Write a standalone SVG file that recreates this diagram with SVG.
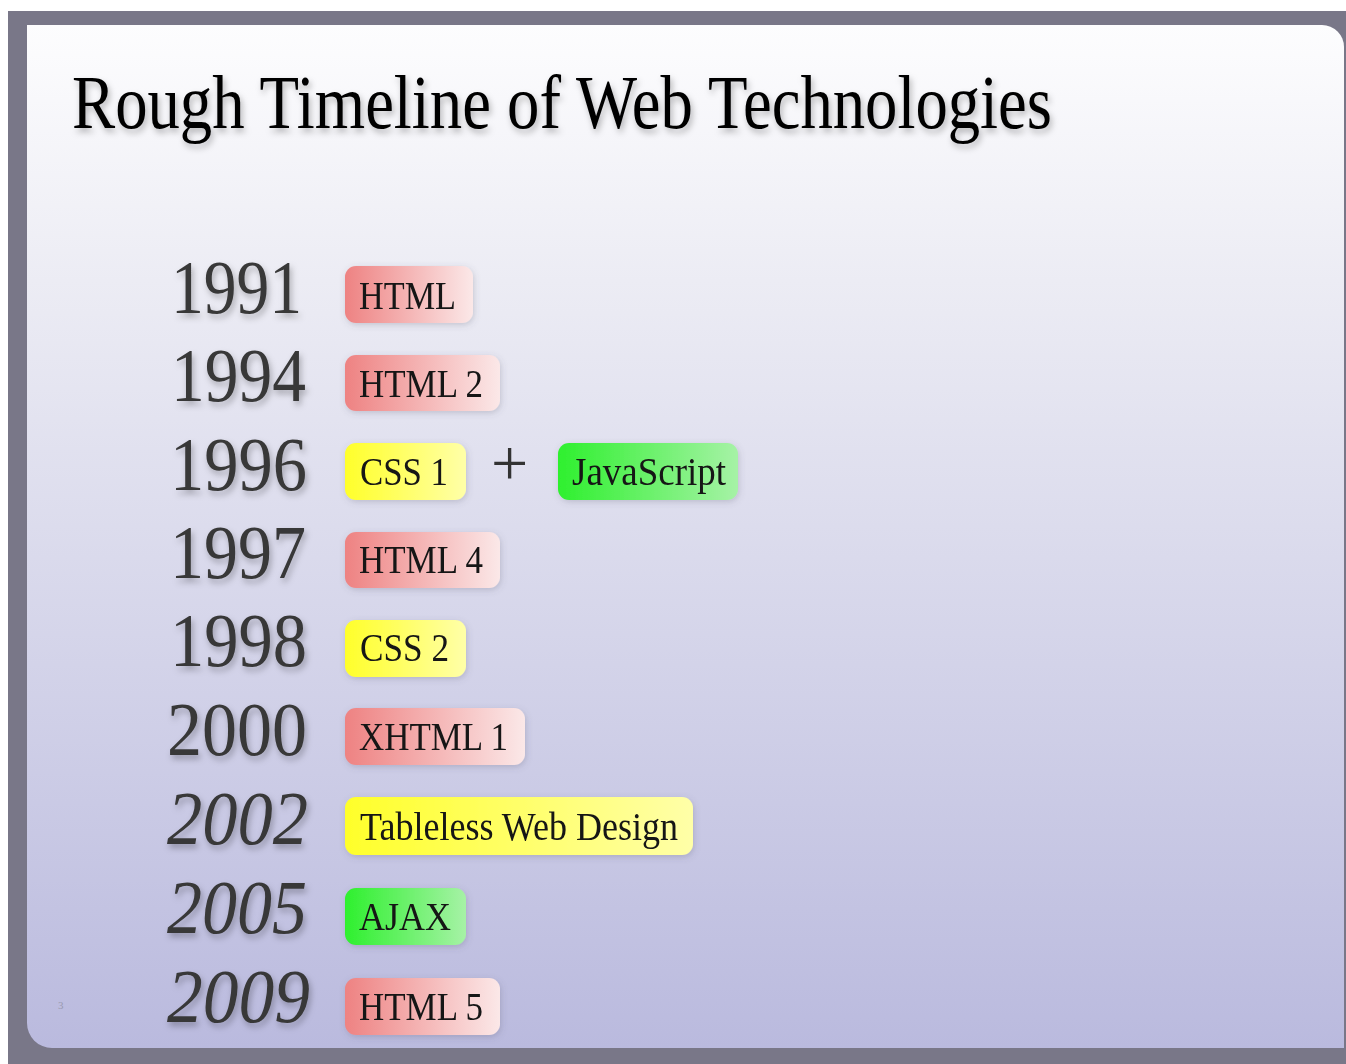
<svg xmlns="http://www.w3.org/2000/svg" width="1346" height="1064" viewBox="0 0 1346 1064">
<defs>
<linearGradient id="slide" x1="0" y1="0" x2="0" y2="1">
<stop offset="0" stop-color="#fdfdfe"/>
<stop offset="0.25" stop-color="#ececf4"/>
<stop offset="1" stop-color="#babade"/>
</linearGradient>
<linearGradient id="red" x1="0" y1="0" x2="1" y2="0">
<stop offset="0" stop-color="#ee8282"/>
<stop offset="1" stop-color="#fbe8e8"/>
</linearGradient>
<linearGradient id="yellow" x1="0" y1="0" x2="1" y2="0">
<stop offset="0" stop-color="#ffff2a"/>
<stop offset="1" stop-color="#ffffa8"/>
</linearGradient>
<linearGradient id="green" x1="0" y1="0" x2="1" y2="0">
<stop offset="0" stop-color="#2ef02e"/>
<stop offset="1" stop-color="#a6f2a6"/>
</linearGradient>
<filter id="tshadow" x="-5%" y="-20%" width="110%" height="150%">
<feDropShadow dx="2" dy="4" stdDeviation="3" flood-color="#000" flood-opacity="0.28"/>
</filter>
<filter id="bshadow" x="-10%" y="-20%" width="125%" height="150%">
<feDropShadow dx="1" dy="2" stdDeviation="3" flood-color="#556" flood-opacity="0.25"/>
</filter>
</defs>
<style>
.title{font-family:"Liberation Serif","Times New Roman",serif;font-size:76px;fill:#000}
.year{font-family:"Liberation Serif","Times New Roman",serif;font-size:76px;fill:#383838}
.it{font-style:italic}
.lbl{font-family:"Liberation Serif","Times New Roman",serif;font-size:40px;fill:#141414}
.red{fill:url(#red)}
.yellow{fill:url(#yellow)}
.green{fill:url(#green)}
</style>
<rect x="0" y="0" width="1346" height="1064" fill="#ffffff"/>
<rect x="8" y="11" width="1338" height="1053" fill="#797788"/>
<path d="M27,25 H1322 A22,22 0 0 1 1344,47 V1048 H52 A25,25 0 0 1 27,1023 Z" fill="url(#slide)"/>
<text class="title" x="72" y="128" textLength="980" lengthAdjust="spacingAndGlyphs" filter="url(#tshadow)">Rough Timeline of Web Technologies</text>
<text x="58" y="1009" font-family="Liberation Serif, serif" font-size="11" fill="#9a9ab0">3</text>
<g id="connectors"></g>
<g filter="url(#tshadow)">
<text class="year" x="171" y="313" textLength="131" lengthAdjust="spacingAndGlyphs">1991</text>
<text class="year" x="171" y="401" textLength="135" lengthAdjust="spacingAndGlyphs">1994</text>
<text class="year" x="170" y="490" textLength="137" lengthAdjust="spacingAndGlyphs">1996</text>
<text class="year" x="170" y="578" textLength="136" lengthAdjust="spacingAndGlyphs">1997</text>
<text class="year" x="170" y="666" textLength="137" lengthAdjust="spacingAndGlyphs">1998</text>
<text class="year" x="167" y="755" textLength="140" lengthAdjust="spacingAndGlyphs">2000</text>
<text class="year it" x="167" y="844" textLength="141" lengthAdjust="spacingAndGlyphs">2002</text>
<text class="year it" x="167" y="933" textLength="140" lengthAdjust="spacingAndGlyphs">2005</text>
<text class="year it" x="167" y="1022" textLength="143" lengthAdjust="spacingAndGlyphs">2009</text>
</g>
<g id="html1991" filter="url(#bshadow)"><rect class="red" x="345" y="266" width="128" height="57" rx="11"/><text class="lbl" x="359" y="309" textLength="97" lengthAdjust="spacingAndGlyphs">HTML</text></g>
<g id="html2" filter="url(#bshadow)"><rect class="red" x="345" y="355" width="155" height="56" rx="11"/><text class="lbl" x="359" y="397" textLength="124" lengthAdjust="spacingAndGlyphs">HTML 2</text></g>
<g id="css1" filter="url(#bshadow)"><rect class="yellow" x="345" y="443" width="121" height="57" rx="11"/><text class="lbl" x="360" y="485" textLength="88" lengthAdjust="spacingAndGlyphs">CSS 1</text></g>
<text x="491" y="485" font-family="Liberation Serif, 'Times New Roman', serif" font-size="66" fill="#333">+</text>
<g id="javascript" filter="url(#bshadow)"><rect class="green" x="558" y="443" width="180" height="57" rx="11"/><text class="lbl" x="572" y="485" textLength="154" lengthAdjust="spacingAndGlyphs">JavaScript</text></g>
<g id="html4" filter="url(#bshadow)"><rect class="red" x="345" y="532" width="155" height="56" rx="11"/><text class="lbl" x="359" y="573" textLength="124" lengthAdjust="spacingAndGlyphs">HTML 4</text></g>
<g id="css2" filter="url(#bshadow)"><rect class="yellow" x="345" y="620" width="121" height="57" rx="11"/><text class="lbl" x="360" y="661" textLength="89" lengthAdjust="spacingAndGlyphs">CSS 2</text></g>
<g id="xhtml1" filter="url(#bshadow)"><rect class="red" x="345" y="708" width="180" height="57" rx="11"/><text class="lbl" x="359" y="750" textLength="149" lengthAdjust="spacingAndGlyphs">XHTML 1</text></g>
<g id="tableless" filter="url(#bshadow)"><rect class="yellow" x="345" y="797" width="348" height="58" rx="11"/><text class="lbl" x="360" y="840" textLength="318" lengthAdjust="spacingAndGlyphs">Tableless Web Design</text></g>
<g id="ajax" filter="url(#bshadow)"><rect class="green" x="345" y="888" width="121" height="57" rx="11"/><text class="lbl" x="359" y="930" textLength="92" lengthAdjust="spacingAndGlyphs">AJAX</text></g>
<g id="html5" filter="url(#bshadow)"><rect class="red" x="345" y="978" width="155" height="57" rx="11"/><text class="lbl" x="359" y="1020" textLength="124" lengthAdjust="spacingAndGlyphs">HTML 5</text></g>
</svg>
